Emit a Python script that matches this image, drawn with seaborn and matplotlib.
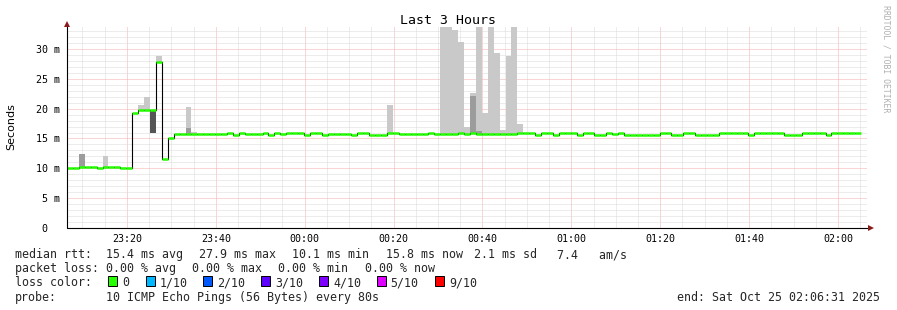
import numpy as np
import pandas as pd
import matplotlib
matplotlib.use("Agg")
import matplotlib.pyplot as plt
import matplotlib.dates as mdates
from matplotlib.patches import Rectangle
from matplotlib.lines import Line2D
import seaborn as sns

# ---------------- data ----------------
START = "2025-10-24 23:06:31"
END = "2025-10-25 02:06:31"
STEP_SECONDS = 80

# median rtt per 80 s step (ms)
median_ms = [
    10.1, 10.1, 10.2, 10.2, 10.2, 10.1, 10.2, 10.2, 10.2, 10.1,   # 0-9
    10.1, 19.2, 19.8, 19.8, 19.8, 27.8, 11.5, 15.0, 15.8, 15.8,   # 10-19
    15.8, 15.8, 15.8, 15.8, 15.8, 15.8, 15.8, 15.95, 15.65, 15.85,  # 20-29
    15.75, 15.75, 15.8, 15.85, 15.65, 15.85, 15.7, 15.85, 15.85, 15.85,  # 30-39
    15.65, 15.9, 15.9, 15.65, 15.8, 15.8, 15.8, 15.8, 15.65, 15.85,  # 40-49
    15.85, 15.65, 15.65, 15.65, 15.85, 15.85, 15.7, 15.7, 15.7, 15.7,  # 50-59
    15.7, 15.85, 15.7, 15.75, 15.8, 15.8, 15.85, 15.75, 15.85, 15.7,  # 60-69
    15.8, 15.8, 15.8, 15.75, 15.8, 15.8, 15.85, 15.85, 15.85, 15.6,  # 70-79
    15.85, 15.85, 15.6, 15.85, 15.85, 15.85, 15.6, 15.85, 15.85, 15.65,  # 80-89
    15.65, 15.85, 15.7, 15.85, 15.65, 15.65, 15.65, 15.65, 15.65, 15.65,  # 90-99
    15.85, 15.85, 15.65, 15.65, 15.85, 15.85, 15.65, 15.65, 15.65, 15.65,  # 100-109
    15.85, 15.85, 15.85, 15.85, 15.85, 15.65, 15.85, 15.85, 15.85, 15.85,  # 110-119
    15.85, 15.65, 15.65, 15.65, 15.85, 15.85, 15.85, 15.85, 15.65, 15.85,  # 120-129
    15.85, 15.85, 15.85, 15.85,                                          # 130-133
]

# smoke (spread of the 10 pings) for the steps where it is visible
smoke_step  = [2, 6, 12, 13, 14, 15, 20, 20, 21, 54, 63, 64, 65, 66, 67, 68, 68,
               69, 69, 70, 71, 72, 73, 74, 75, 76]
smoke_low   = [10.2, 10.2, 19.8, 19.8, 16.0, 27.8, 15.8, 15.8, 15.8, 15.85, 15.75,
               15.8, 15.8, 15.85, 15.75, 15.85, 15.9, 15.7, 15.7, 15.8, 15.8, 15.8,
               15.75, 15.8, 15.8, 15.85]
smoke_high  = [12.35, 12.0, 20.6, 22.0, 19.8, 28.9, 20.2, 16.8, 16.1, 20.6, 35.0,
               35.0, 33.2, 31.2, 17.0, 22.6, 22.1, 35.0, 16.3, 19.2, 35.0, 29.4,
               16.4, 28.9, 35.0, 17.4]
smoke_shade = ["mid", "light", "light", "light", "dark", "light", "light", "mid",
               "light", "light", "light", "light", "light", "light", "light",
               "light", "mid", "light", "mid", "light", "light", "light", "light",
               "light", "light", "light"]

y_ticks = [0, 5, 10, 15, 20, 25, 30]
y_tick_labels = ["0  ", "5 m", "10 m", "15 m", "20 m", "25 m", "30 m"]

title = "Last 3 Hours"
y_label = "Seconds"
watermark = "RRDTOOL / TOBI OETIKER"

rtt_head = "median rtt:"
rtt_items = ["15.4 ms avg", "27.9 ms max", "10.1 ms min", "15.8 ms now",
             "2.1 ms sd", "7.4   am/s"]
loss_head = "packet loss:"
loss_items = ["0.00 % avg", "0.00 % max", "0.00 % min", "0.00 % now"]
color_head = "loss color:"
loss_labels = ["0", "1/10", "2/10", "3/10", "4/10", "5/10", "9/10"]
loss_colors = ["#26ff00", "#00b8ff", "#0059ff", "#5e00ff", "#7e00ff",
               "#dd00ff", "#ff0000"]
probe_head = "probe:"
probe_text = "10 ICMP Echo Pings (56 Bytes) every 80s"
end_text = "end: Sat Oct 25 02:06:31 2025"

# ---------------- styling / layout ----------------
sns.set_theme(style="white")
plt.rcParams["font.family"] = ["DejaVu Sans Mono", "DejaVu Sans"]

W, H = 897, 310
def fx(px):
    return px / W
def fy(py):
    return 1 - py / H

fig = plt.figure(figsize=(W / 100, H / 100), dpi=100, facecolor="white")
ax = fig.add_axes([fx(67), fy(228), fx(867) - fx(67), fy(27) - fy(228)])
ax.set_facecolor("white")

times = pd.date_range(START, periods=len(median_ms), freq=f"{STEP_SECONDS}s")
xnum = mdates.date2num(times)
step_days = STEP_SECONDS / 86400.0
median_arr = np.array(median_ms)

shade_colors = {"light": "#c9c9c9", "mid": "#9c9c9c", "dark": "#555555"}
order = {"light": 1, "mid": 2, "dark": 3}
for s, lo, hi, sh in zip(smoke_step, smoke_low, smoke_high, smoke_shade):
    ax.bar(xnum[s], hi - lo, bottom=lo, width=step_days, align="edge",
           color=shade_colors[sh], linewidth=0, zorder=2 + order[sh] * 0.1)

df = pd.DataFrame({"t": xnum, "median": median_arr})
sns.lineplot(data=df, x="t", y="median", drawstyle="steps-post", color="black",
             linewidth=0.8, estimator=None, ax=ax, zorder=4)
ax.hlines(median_arr, xnum, xnum + step_days, colors="#26ff00", linewidth=1.8,
          zorder=5, capstyle="butt")

ax.set_xlim(mdates.date2num(pd.Timestamp(START)), mdates.date2num(pd.Timestamp(END)))
ax.set_ylim(0, 33.68)
ax.set_xlabel("")
ax.set_ylabel("")

ax.xaxis.set_major_locator(mdates.MinuteLocator(byminute=[0, 20, 40]))
ax.xaxis.set_minor_locator(mdates.MinuteLocator(byminute=range(0, 60, 5)))
ax.xaxis.set_major_formatter(mdates.DateFormatter("%H:%M"))
ax.set_yticks(y_ticks)
ax.set_yticklabels(y_tick_labels)
ax.set_yticks(np.arange(0, 34, 1), minor=True)

ax.grid(True, which="minor", color="#dadada", linestyle=(0, (1, 1)), linewidth=0.72,
        zorder=0)
ax.grid(True, which="major", color="#f4acac", linestyle=(0, (1, 1)), linewidth=0.72,
        zorder=0.5)
ax.set_axisbelow(True)

ax.tick_params(axis="both", which="both", length=0, labelsize=7.2, colors="black")
ax.tick_params(axis="x", pad=4)
ax.tick_params(axis="y", pad=5)
for lab in ax.get_xticklabels() + ax.get_yticklabels():
    lab.set_family("DejaVu Sans Mono")

for sp in ax.spines.values():
    sp.set_visible(False)

# axis lines with arrows
fig.add_artist(Line2D([fx(67), fx(67)], [fy(228), fy(24)], color="black", linewidth=0.8))
fig.add_artist(Line2D([fx(67), fx(870)], [fy(228), fy(228)], color="black", linewidth=0.8))
fig.add_artist(Line2D([fx(67)], [fy(23.5)], marker="^", markersize=4.2, color="#8b1a1a",
                      markeredgewidth=0, linestyle="none"))
fig.add_artist(Line2D([fx(870.5)], [fy(228)], marker=">", markersize=4.2, color="#8b1a1a",
                      markeredgewidth=0, linestyle="none"))

# titles
fig.text(fx(448), fy(20), title, ha="center", va="center", fontsize=9.5,
         family="DejaVu Sans Mono", color="black")
fig.text(fx(11), fy(127), y_label, ha="center", va="center", rotation=90,
         fontsize=8, family="DejaVu Sans", color="black")
fig.text(fx(886), fy(59), watermark, ha="center", va="center", rotation=270,
         fontsize=5.9, family="DejaVu Sans Mono", color="#b0b0b0")

# legend block
LFS = 8.4
base = [258.3, 272.4, 286.5, 300.6]
fig.text(fx(15), fy(base[0]), rtt_head, ha="left", va="baseline", fontsize=LFS)
for txt, px in zip(rtt_items, [106, 199, 292.3, 385.7, 474, 557.3]):
    fig.text(fx(px), fy(base[0]), txt, ha="left", va="baseline", fontsize=LFS)
fig.text(fx(15), fy(base[1]), loss_head, ha="left", va="baseline", fontsize=LFS)
for txt, px in zip(loss_items, [106.3, 192.3, 278.3, 364.7]):
    fig.text(fx(px), fy(base[1]), txt, ha="left", va="baseline", fontsize=LFS)
fig.text(fx(15), fy(base[2]), color_head, ha="left", va="baseline", fontsize=LFS)
for lab, col, bx in zip(loss_labels, loss_colors,
                        [108.3, 145.7, 203.3, 261, 319, 376.7, 435]):
    fig.add_artist(Rectangle((fx(bx), fy(286)), fx(9), 10 / H, facecolor=col,
                             edgecolor="black", linewidth=0.7,
                             transform=fig.transFigure))
    fig.text(fx(bx + 14), fy(base[2]), lab, ha="left", va="baseline", fontsize=LFS)
fig.text(fx(15), fy(base[3]), probe_head, ha="left", va="baseline", fontsize=LFS)
fig.text(fx(106.3), fy(base[3]), probe_text, ha="left", va="baseline", fontsize=LFS)
fig.text(fx(677.3), fy(base[3]), end_text, ha="left", va="baseline", fontsize=LFS)

fig.savefig("out.png", dpi=100, facecolor="white")
